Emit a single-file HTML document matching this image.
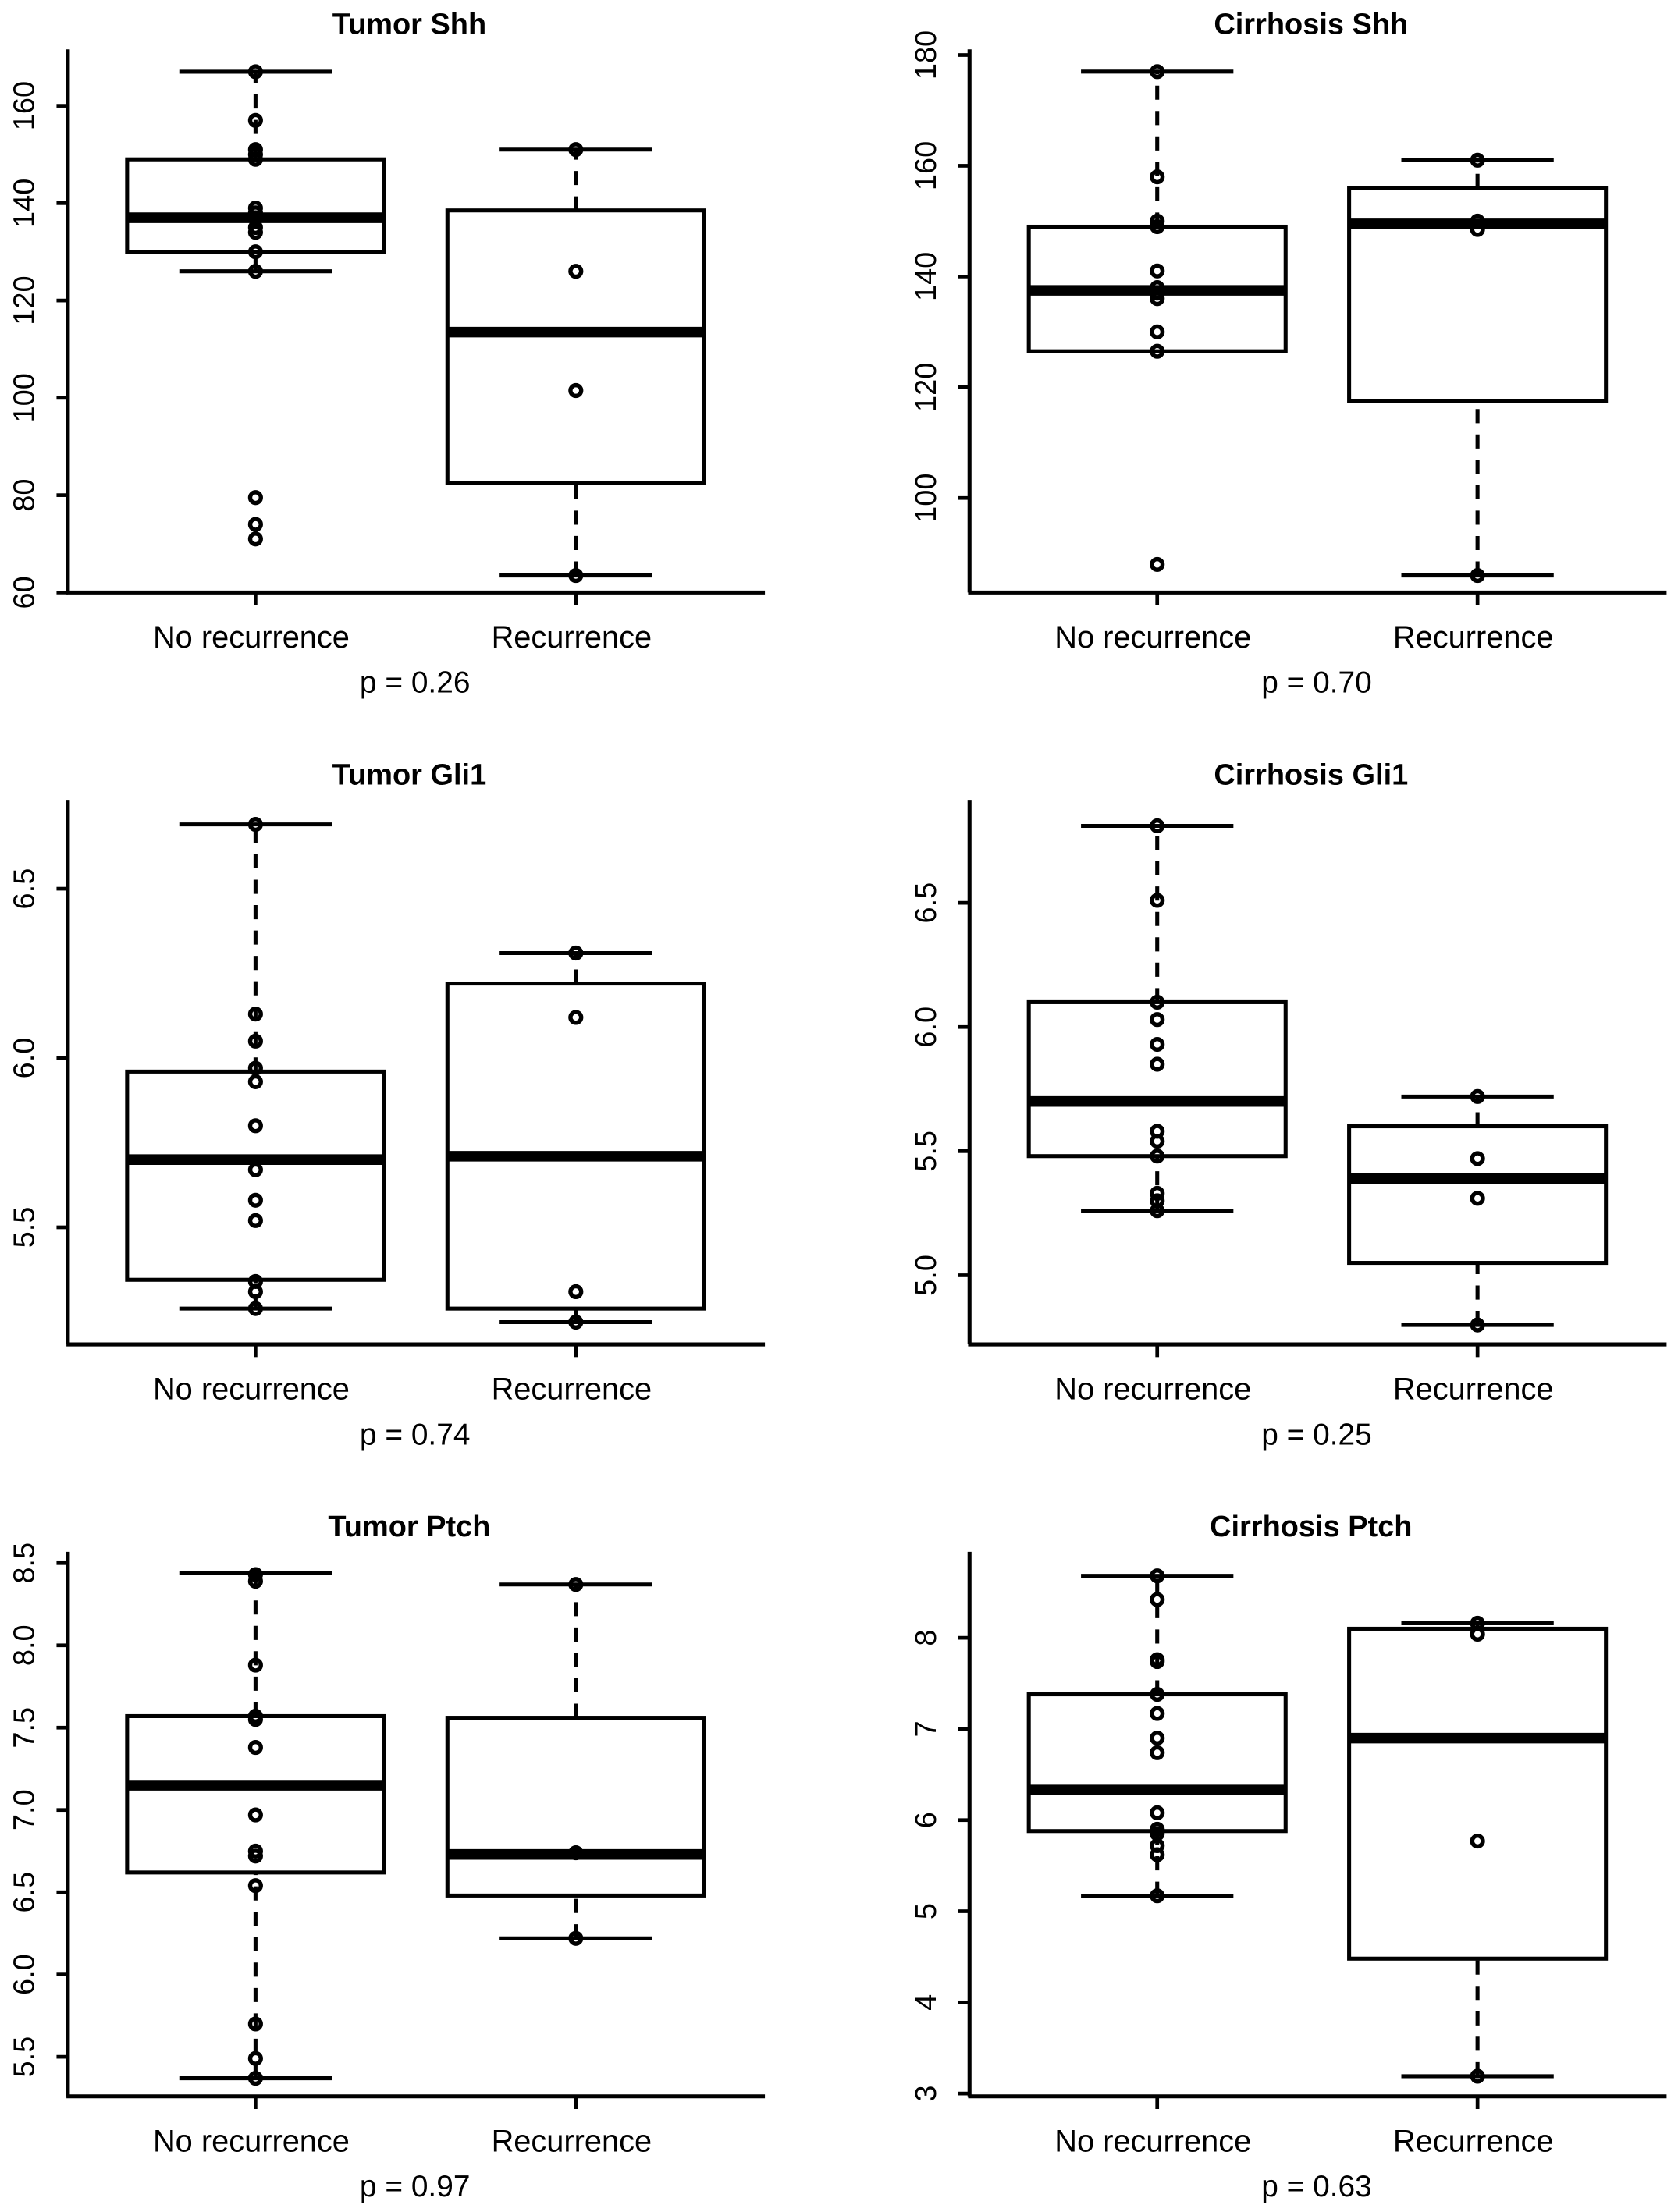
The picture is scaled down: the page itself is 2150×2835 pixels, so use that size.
<!DOCTYPE html>
<html><head><meta charset="utf-8"><style>
html,body{margin:0;padding:0;background:#fff;}
svg{display:block;}
text{font-family:"Liberation Sans",sans-serif;fill:#000;}
</style></head><body>
<svg id="fig" width="2150" height="2835" viewBox="0 0 1189 1568" xmlns="http://www.w3.org/2000/svg"></svg>
<script>
// ---- data ----
const panelTitles = ["Tumor Shh","Cirrhosis Shh","Tumor Gli1","Cirrhosis Gli1","Tumor Ptch","Cirrhosis Ptch"];
const pValues = ["p = 0.26","p = 0.70","p = 0.74","p = 0.25","p = 0.97","p = 0.63"];
const groupLabels = [["No  recurrence","Recurrence"],["No  recurrence","Recurrence"],["No  recurrence","Recurrence"],["No recurrence","Recurrence"],["No recurrence","Recurrence"],["No recurrence","Recurrence"]];
const tickLabels = [
  ["60","80","100","120","140","160"],
  ["100","120","140","160","180"],
  ["5.5","6.0","6.5"],
  ["5.0","5.5","6.0","6.5"],
  ["5.5","6.0","6.5","7.0","7.5","8.0","8.5"],
  ["3","4","5","6","7","8"]
];
// [whiskerLow, q1, median, q3, whiskerHigh]
const noRecStats = [
  [126,130,137,149,167],
  [126.5,126.5,137.5,149,177],
  [5.26,5.345,5.70,5.96,6.69],
  [5.26,5.48,5.70,6.10,6.81],
  [5.37,6.62,7.15,7.57,8.44],
  [5.17,5.88,6.33,7.38,8.68]
];
const recStats = [
  [63.5,82.5,113.5,138.5,151],
  [86,117.5,149.5,156,161],
  [5.22,5.26,5.71,6.22,6.31],
  [4.80,5.05,5.39,5.60,5.72],
  [6.22,6.48,6.73,7.56,8.37],
  [3.19,4.48,6.90,8.10,8.16]
];
const noRecPoints = [
  [167,157,151,150,149,139,138,137,135,134,130,126,79.5,74,71],
  [177,158,150,149,141,138,137,136,130,126.5,88],
  [6.69,6.13,6.05,5.97,5.93,5.80,5.67,5.58,5.52,5.34,5.31,5.26],
  [6.81,6.51,6.10,6.03,5.93,5.85,5.58,5.54,5.48,5.33,5.30,5.26],
  [8.43,8.39,7.88,7.57,7.55,7.38,6.97,6.75,6.72,6.54,5.70,5.49,5.37],
  [8.68,8.42,7.76,7.74,7.38,7.17,6.90,6.74,6.08,5.90,5.85,5.72,5.62,5.17]
];
const recPoints = [
  [151,126,101.5,63.5],
  [161,150,148.5,86],
  [6.31,6.12,5.31,5.22],
  [5.72,5.47,5.31,4.80],
  [8.37,6.74,6.22],
  [8.16,8.04,5.77,3.19]
];
// ---- layout (pixel anchors for axis scales) ----
const layout = [
  {ax:48, top:35, bot:420, t0:60, p0:420, t1:160, p1:75},
  {ax:687,top:35, bot:420, t0:100,p0:353, t1:180, p1:39},
  {ax:48, top:567,bot:953, t0:5.5,p0:870, t1:6.5, p1:630},
  {ax:687,top:567,bot:953, t0:5.0,p0:904, t1:6.5, p1:640},
  {ax:48, top:1100,bot:1486,t0:5.5,p0:1458,t1:8.5,p1:1108},
  {ax:687,top:1100,bot:1486,t0:3,p0:1484,t1:8,p1:1161}
];
const NS="http://www.w3.org/2000/svg";
const svg=document.getElementById('fig');
function mk(tag,attrs,parent){const e=document.createElementNS(NS,tag);for(const k in attrs)e.setAttribute(k,attrs[k]);(parent||svg).appendChild(e);return e;}
panelTitles.forEach((title,i)=>{
  const L=layout[i];
  const g=mk('g',{});
  
  
  const y=v=>L.p0+(v-L.t0)*(L.p1-L.p0)/(L.t1-L.t0);
  const right=L.ax+494;
  const cx=[L.ax+133,L.ax+360];
  const t=mk('text',{x:L.ax+242,y:L.top-11,'text-anchor':'middle','font-size':21,'font-weight':'bold'},g);
  t.textContent=title;
  
  
  const ya=mk('line',{x1:L.ax,y1:L.top,x2:L.ax,y2:L.bot,stroke:'#000','stroke-width':2.8},g);
  
  
  const xa=mk('line',{x1:L.ax-1,y1:L.bot,x2:right,y2:L.bot,stroke:'#000','stroke-width':2.8},g);
  
  
  tickLabels[i].forEach(lbl=>{
    const v=parseFloat(lbl),py=y(v);
    mk('line',{x1:L.ax-8,y1:py,x2:L.ax,y2:py,stroke:'#000','stroke-width':2.6},g);
    const tl=mk('text',{x:0,y:0,'text-anchor':'middle','font-size':21,transform:`translate(${L.ax-24},${py}) rotate(-90)`},g);
    tl.textContent=lbl;
    
    
  });
  const stats=[noRecStats[i],recStats[i]],pts=[noRecPoints[i],recPoints[i]];
  [0,1].forEach(k=>{
    const c=cx[k],s=stats[k];
    mk('line',{x1:c,y1:L.bot,x2:c,y2:L.bot+9,stroke:'#000','stroke-width':2.6},g);
    const gl=mk('text',{x:c-3,y:L.bot+39,'text-anchor':'middle','font-size':22},g);
    gl.textContent=groupLabels[i][k];
    
    
    const bx=mk('g',{},g);
    
    
    mk('line',{x1:c,y1:y(s[0]),x2:c,y2:y(s[1]),stroke:'#000','stroke-width':2.8,'stroke-dasharray':'10,8'},bx);
    mk('line',{x1:c,y1:y(s[3]),x2:c,y2:y(s[4]),stroke:'#000','stroke-width':2.8,'stroke-dasharray':'10,8'},bx);
    mk('line',{x1:c-54,y1:y(s[0]),x2:c+54,y2:y(s[0]),stroke:'#000','stroke-width':2.8},bx);
    mk('line',{x1:c-54,y1:y(s[4]),x2:c+54,y2:y(s[4]),stroke:'#000','stroke-width':2.8},bx);
    mk('rect',{x:c-91,y:y(s[3]),width:182,height:y(s[1])-y(s[3]),fill:'#fff',stroke:'#000','stroke-width':2.8},bx);
    mk('line',{x1:c-91,y1:y(s[2]),x2:c+91,y2:y(s[2]),stroke:'#000','stroke-width':7.5},bx);
    pts[k].forEach(v=>{
      const p=mk('circle',{cx:c,cy:y(v),r:3.8,fill:'none',stroke:'#000','stroke-width':3},bx);
      
      
    });
  });
  const pv=mk('text',{x:L.ax+246,y:L.bot+71,'text-anchor':'middle','font-size':21.5},g);
  pv.textContent=pValues[i];
  
  
});
</script>
</body></html>
